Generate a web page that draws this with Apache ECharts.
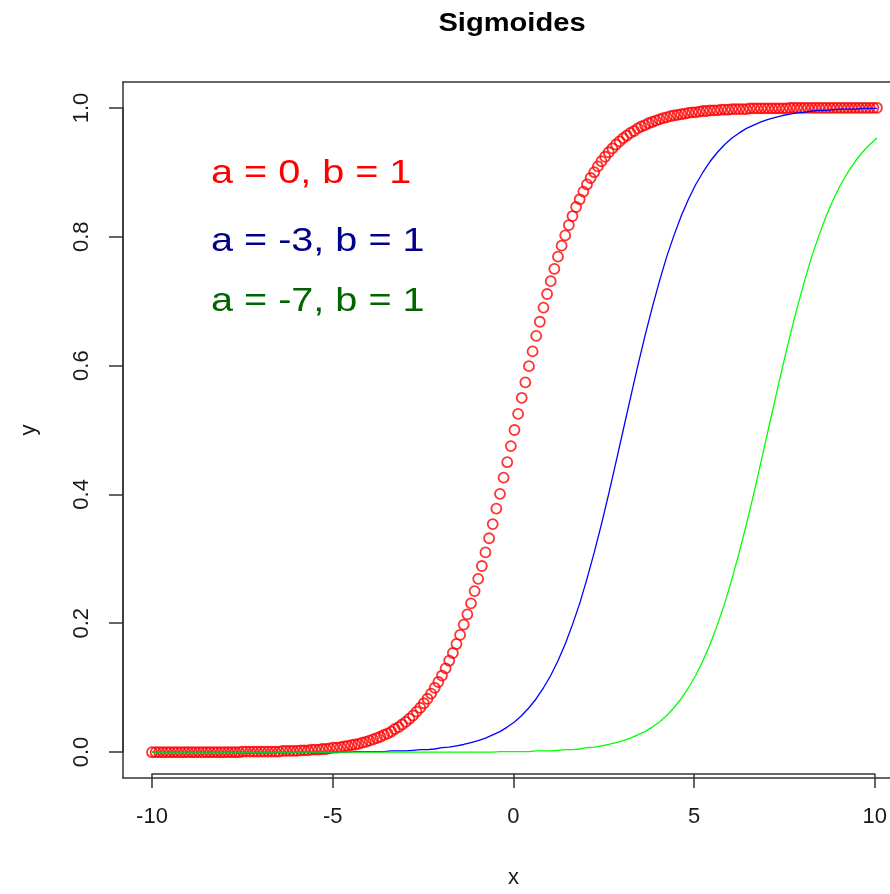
<!DOCTYPE html>
<html>
<head>
<meta charset="utf-8">
<title>Sigmoides</title>
<script src="https://cdn.jsdelivr.net/npm/echarts/dist/echarts.min.js"></script>
<style>
  html, body { margin: 0; padding: 0; background: #fff; }
  #chart { width: 890px; height: 894px; }
</style>
</head>
<body>
<div id="chart"></div>
<script>
// x positions of the red points (step 0.1)
var xPts = [
  -10,-9.9,-9.8,-9.7,-9.6,-9.5,-9.4,-9.3,-9.2,-9.1,
  -9,-8.9,-8.8,-8.7,-8.6,-8.5,-8.4,-8.3,-8.2,-8.1,
  -8,-7.9,-7.8,-7.7,-7.6,-7.5,-7.4,-7.3,-7.2,-7.1,
  -7,-6.9,-6.8,-6.7,-6.6,-6.5,-6.4,-6.3,-6.2,-6.1,
  -6,-5.9,-5.8,-5.7,-5.6,-5.5,-5.4,-5.3,-5.2,-5.1,
  -5,-4.9,-4.8,-4.7,-4.6,-4.5,-4.4,-4.3,-4.2,-4.1,
  -4,-3.9,-3.8,-3.7,-3.6,-3.5,-3.4,-3.3,-3.2,-3.1,
  -3,-2.9,-2.8,-2.7,-2.6,-2.5,-2.4,-2.3,-2.2,-2.1,
  -2,-1.9,-1.8,-1.7,-1.6,-1.5,-1.4,-1.3,-1.2,-1.1,
  -1,-0.9,-0.8,-0.7,-0.6,-0.5,-0.4,-0.3,-0.2,-0.1,
  0,0.1,0.2,0.3,0.4,0.5,0.6,0.7,0.8,0.9,
  1,1.1,1.2,1.3,1.4,1.5,1.6,1.7,1.8,1.9,
  2,2.1,2.2,2.3,2.4,2.5,2.6,2.7,2.8,2.9,
  3,3.1,3.2,3.3,3.4,3.5,3.6,3.7,3.8,3.9,
  4,4.1,4.2,4.3,4.4,4.5,4.6,4.7,4.8,4.9,
  5,5.1,5.2,5.3,5.4,5.5,5.6,5.7,5.8,5.9,
  6,6.1,6.2,6.3,6.4,6.5,6.6,6.7,6.8,6.9,
  7,7.1,7.2,7.3,7.4,7.5,7.6,7.7,7.8,7.9,
  8,8.1,8.2,8.3,8.4,8.5,8.6,8.7,8.8,8.9,
  9,9.1,9.2,9.3,9.4,9.5,9.6,9.7,9.8,9.9,
  10
];
// a = 0, b = 1 (red circles)
var redY = [
  0,0,0,0,0,0,0,0,0,0,
  0,0,0,0,0,0,0,0,0,0,
  0,0,0,0,0,.001,.001,.001,.001,.001,
  .001,.001,.001,.001,.001,.001,.002,.002,.002,.002,
  .002,.003,.003,.003,.004,.004,.004,.005,.005,.006,
  .007,.007,.008,.009,.010,.011,.012,.013,.015,.016,
  .018,.020,.022,.024,.027,.029,.032,.036,.039,.043,
  .047,.052,.057,.063,.069,.076,.083,.091,.100,.109,
  .119,.130,.142,.154,.168,.182,.198,.214,.231,.250,
  .269,.289,.310,.332,.354,.378,.401,.426,.450,.475,
  .500,.525,.550,.574,.599,.622,.646,.668,.690,.711,
  .731,.750,.769,.786,.802,.818,.832,.846,.858,.870,
  .881,.891,.900,.909,.917,.924,.931,.937,.943,.948,
  .953,.957,.961,.964,.968,.971,.973,.976,.978,.980,
  .982,.984,.985,.987,.988,.989,.990,.991,.992,.993,
  .993,.994,.995,.995,.996,.996,.996,.997,.997,.997,
  .998,.998,.998,.998,.998,.999,.999,.999,.999,.999,
  .999,.999,.999,.999,.999,.999,1,1,1,1,
  1,1,1,1,1,1,1,1,1,1,
  1,1,1,1,1,1,1,1,1,1,
  1
];
// x positions of the two lines (step 0.2)
var xLine = [
  -10,-9.8,-9.6,-9.4,-9.2,-9,-8.8,-8.6,-8.4,-8.2,
  -8,-7.8,-7.6,-7.4,-7.2,-7,-6.8,-6.6,-6.4,-6.2,
  -6,-5.8,-5.6,-5.4,-5.2,-5,-4.8,-4.6,-4.4,-4.2,
  -4,-3.8,-3.6,-3.4,-3.2,-3,-2.8,-2.6,-2.4,-2.2,
  -2,-1.8,-1.6,-1.4,-1.2,-1,-0.8,-0.6,-0.4,-0.2,
  0,0.2,0.4,0.6,0.8,1,1.2,1.4,1.6,1.8,
  2,2.2,2.4,2.6,2.8,3,3.2,3.4,3.6,3.8,
  4,4.2,4.4,4.6,4.8,5,5.2,5.4,5.6,5.8,
  6,6.2,6.4,6.6,6.8,7,7.2,7.4,7.6,7.8,
  8,8.2,8.4,8.6,8.8,9,9.2,9.4,9.6,9.8,
  10
];
// a = -3, b = 1 (blue line)
var blueY = [
  0,0,0,0,0,0,0,0,0,0,
  0,0,0,0,0,0,0,0,0,0,
  0,0,0,0,0,0,0,0,.001,.001,
  .001,.001,.001,.002,.002,.002,.003,.004,.004,.005,
  .007,.008,.010,.012,.015,.018,.022,.027,.032,.039,
  .047,.057,.069,.083,.100,.119,.142,.168,.198,.231,
  .269,.310,.354,.401,.450,.500,.550,.599,.646,.690,
  .731,.769,.802,.832,.858,.881,.900,.917,.931,.943,
  .953,.961,.968,.973,.978,.982,.985,.988,.990,.992,
  .993,.995,.996,.996,.997,.998,.998,.998,.999,.999,
  .999
];
// a = -7, b = 1 (green line)
var greenY = [
  0,0,0,0,0,0,0,0,0,0,
  0,0,0,0,0,0,0,0,0,0,
  0,0,0,0,0,0,0,0,0,0,
  0,0,0,0,0,0,0,0,0,0,
  0,0,0,0,0,0,0,0,.001,.001,
  .001,.001,.001,.002,.002,.002,.003,.004,.004,.005,
  .007,.008,.010,.012,.015,.018,.022,.027,.032,.039,
  .047,.057,.069,.083,.100,.119,.142,.168,.198,.231,
  .269,.310,.354,.401,.450,.500,.550,.599,.646,.690,
  .731,.769,.802,.832,.858,.881,.900,.917,.931,.943,
  .953
];
var xTicks = [-10, 10, 5];      // min, max, interval
var yTicks = [0, 1, 0.2];
var labels = ['a = 0, b = 1', 'a = -3, b = 1', 'a = -7, b = 1'];

var FONT = '"Liberation Sans", Arial, sans-serif';
var AX = '#333';
// plotting window: x runs -10.8 .. 10.8 but the picture is cut at the right edge
var X_MIN = -10.8, X_MAX = 10.36, Y_MIN = -0.04, Y_MAX = 1.04;

function pairs(xs, ys) {
  return xs.map(function (x, i) { return [x, ys[i]]; });
}

// axis used only to draw one side of the plot box
function boxSide(extra) {
  return Object.assign({
    gridIndex: 0, type: 'value',
    axisLine: { show: true, onZero: false, lineStyle: { color: AX, width: 1.5 } },
    axisTick: { show: false }, axisLabel: { show: false }, splitLine: { show: false }
  }, extra);
}

var chart = echarts.init(document.getElementById('chart'));

// grid 0 carries the data and the box, grids 1 and 2 only draw the R-style axes
chart.setOption({
  animation: false,
  backgroundColor: '#fff',
  textStyle: { fontFamily: FONT },
  grid: [
    { left: 123, right: 0, top: 82, bottom: 116, show: false },
    { left: 152, right: 13, top: 82, bottom: 116, show: false },
    { left: 123, right: 0, top: 108, bottom: 142, show: false }
  ],
  xAxis: [
    boxSide({ min: X_MIN, max: X_MAX, position: 'bottom' }),
    {
      gridIndex: 1, type: 'value', min: xTicks[0], max: xTicks[1], interval: xTicks[2],
      position: 'bottom',
      axisLine: { show: true, onZero: false, lineStyle: { color: AX, width: 1.5 } },
      axisTick: { show: true, length: 14, lineStyle: { color: AX, width: 1.5 } },
      axisLabel: { margin: 32, fontSize: 22, color: '#1a1a1a', fontFamily: FONT },
      splitLine: { show: false },
      name: 'x', nameLocation: 'middle', nameGap: 93,
      nameTextStyle: { fontSize: 22, color: '#1a1a1a', fontFamily: FONT }
    },
    { gridIndex: 2, type: 'value', show: false, splitLine: { show: false } },
    boxSide({ min: X_MIN, max: X_MAX, position: 'top' })
  ],
  yAxis: [
    boxSide({ min: Y_MIN, max: Y_MAX, position: 'left' }),
    { gridIndex: 1, type: 'value', show: false, splitLine: { show: false } },
    {
      gridIndex: 2, type: 'value', min: yTicks[0], max: yTicks[1], interval: yTicks[2],
      position: 'left',
      axisLine: { show: true, onZero: false, lineStyle: { color: AX, width: 1.5 } },
      axisTick: { show: true, length: 14, lineStyle: { color: AX, width: 1.5 } },
      axisLabel: {
        margin: 30, fontSize: 22, color: '#1a1a1a', rotate: 90, fontFamily: FONT,
        formatter: function (v) { return v.toFixed(1); }
      },
      splitLine: { show: false },
      name: 'y', nameLocation: 'middle', nameGap: 83, nameRotate: 90,
      nameTextStyle: { fontSize: 22, color: '#1a1a1a', fontFamily: FONT }
    }
  ],
  graphic: [
    { type: 'text', x: 512, y: 24, scaleX: 1.12, style: { text: 'Sigmoides', fill: '#000', font: 'bold 26px ' + FONT, align: 'center', verticalAlign: 'middle' } },
    { type: 'text', x: 211, y: 174, scaleX: 1.2, style: { text: labels[0], fill: '#ff0000', font: '33px ' + FONT, align: 'left', verticalAlign: 'middle' } },
    { type: 'text', x: 211, y: 242, scaleX: 1.2, style: { text: labels[1], fill: '#00008b', font: '33px ' + FONT, align: 'left', verticalAlign: 'middle' } },
    { type: 'text', x: 211, y: 302, scaleX: 1.2, style: { text: labels[2], fill: '#006400', font: '33px ' + FONT, align: 'left', verticalAlign: 'middle' } }
  ],
  series: [
    {
      type: 'scatter', xAxisIndex: 0, yAxisIndex: 0,
      symbol: 'circle', symbolSize: 10,
      itemStyle: { color: 'rgba(0,0,0,0)', borderColor: '#ff0000', borderWidth: 1.8 },
      data: pairs(xPts, redY)
    },
    {
      type: 'line', xAxisIndex: 0, yAxisIndex: 0, showSymbol: false,
      lineStyle: { color: '#0000ff', width: 1.3 },
      data: pairs(xLine, blueY)
    },
    {
      type: 'line', xAxisIndex: 0, yAxisIndex: 0, showSymbol: false,
      lineStyle: { color: '#00ff00', width: 1.3 },
      data: pairs(xLine, greenY)
    }
  ]
});
</script>
</body>
</html>
